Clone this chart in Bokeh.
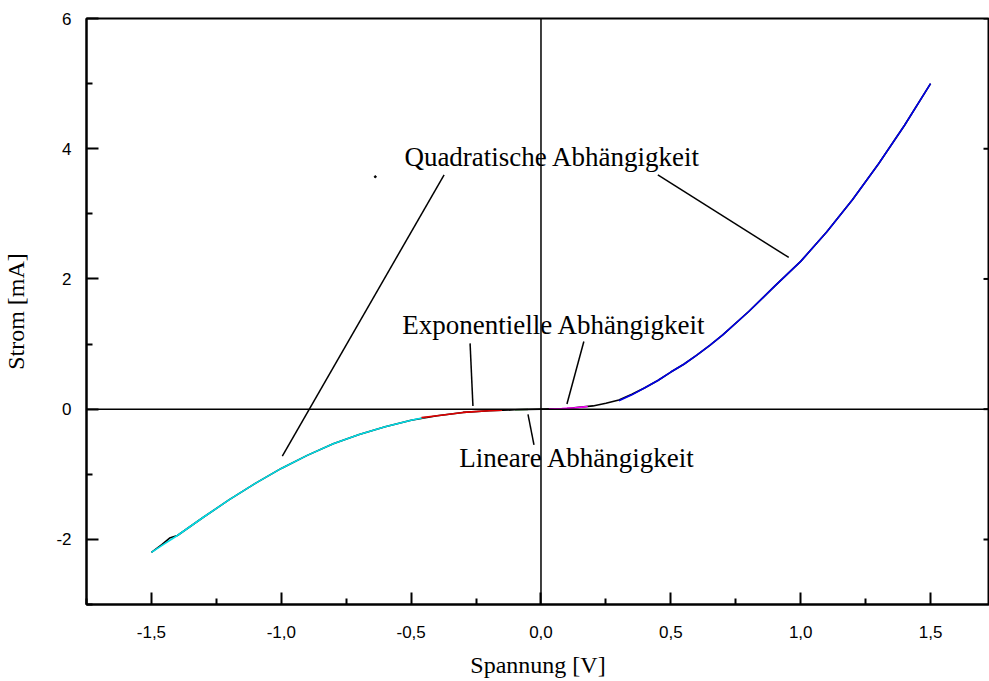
from bokeh.plotting import figure
from bokeh.models import FixedTicker, Span, ColumnDataSource
from bokeh.core.properties import value
from bokeh.embed import file_html
from bokeh.resources import INLINE

# ---- measured characteristic (black) ----
voltage = [-1.5, -1.46, -1.43, -1.4, -1.3, -1.2, -1.1, -1.0, -0.9, -0.8, -0.7, -0.6,
           -0.5, -0.4, -0.3, -0.2, -0.1, 0.0, 0.1, 0.2, 0.25, 0.3, 0.35, 0.4, 0.45, 0.5,
           0.55, 0.6, 0.65, 0.7, 0.8, 0.9, 1.0, 1.1, 1.2, 1.3, 1.4, 1.5]
current = [-2.2, -2.08, -1.98, -1.94, -1.66, -1.39, -1.14, -0.91, -0.71, -0.53, -0.39, -0.27,
           -0.17, -0.10, -0.05, -0.025, -0.01, 0.0, 0.01, 0.05, 0.09, 0.14, 0.23, 0.33, 0.44, 0.57,
           0.69, 0.83, 0.98, 1.14, 1.50, 1.89, 2.27, 2.72, 3.22, 3.77, 4.36, 5.0]

# ---- fits ----
quad_neg_v = [-1.5, -1.45, -1.4, -1.3, -1.2, -1.1, -1.0, -0.9, -0.8, -0.7, -0.6, -0.5, -0.44]
quad_neg_i = [-2.2, -2.07, -1.94, -1.66, -1.39, -1.14, -0.91, -0.71, -0.53, -0.39, -0.27, -0.17, -0.12]
exp_neg_v = [-0.46, -0.4, -0.3, -0.2, -0.15]
exp_neg_i = [-0.13, -0.10, -0.05, -0.025, -0.016]
lin_v = [-0.1, -0.05]
lin_i = [-0.010, -0.005]
exp_pos_v = [0.03, 0.08, 0.13, 0.18]
exp_pos_i = [0.002, 0.008, 0.02, 0.04]
quad_pos_v = [0.3, 0.35, 0.4, 0.45, 0.5, 0.55, 0.6, 0.65, 0.7, 0.8, 0.9, 1.0, 1.1, 1.2, 1.3, 1.4, 1.5]
quad_pos_i = [0.13, 0.22, 0.33, 0.44, 0.57, 0.69, 0.83, 0.98, 1.14, 1.50, 1.89, 2.27, 2.72, 3.22, 3.77, 4.36, 5.0]

# ---- ticks ----
x_tick_values = [-1.5, -1.0, -0.5, 0.0, 0.5, 1.0, 1.5]
x_tick_labels = ["-1,5", "-1,0", "-0,5", "0,0", "0,5", "1,0", "1,5"]
x_minor_values = [-1.75, -1.25, -0.75, -0.25, 0.25, 0.75, 1.25, 1.75]
y_tick_values = [-2, 0, 2, 4, 6]
y_tick_labels = ["-2", "0", "2", "4", "6"]
y_minor_values = [-3, -1, 1, 3, 5]

# ---- annotations ----
ann_text = ["Quadratische Abhängigkeit", "Exponentielle Abhängigkeit", "Lineare Abhängigkeit"]
ann_x = [-0.526, -0.534, -0.315]
ann_y = [3.87, 1.29, -0.75]
lead_x0 = [-0.373, 0.45, -0.273, 0.165, -0.05]
lead_y0 = [3.60, 3.60, 1.01, 1.04, -0.08]
lead_x1 = [-0.996, 0.954, -0.262, 0.10, -0.027]
lead_y1 = [-0.72, 2.33, 0.05, 0.08, -0.55]
dot_x = [-0.638]
dot_y = [3.57]

X_START, X_END = -1.75, 1.727
PX_PER_V = 260.0

p = figure(width=989, height=681, x_range=(X_START, X_END), y_range=(-3, 6),
           output_backend="svg", toolbar_location=None,
           min_border_left=85, min_border_top=18, min_border_bottom=77, min_border_right=0)
p.background_fill_color = "white"
p.border_fill_color = "white"
p.outline_line_color = "black"
p.outline_line_width = 2
p.xgrid.visible = False
p.ygrid.visible = False

tick_font = "Liberation Sans"
title_font = "Liberation Serif"

xa = p.xaxis[0]
xa.ticker = FixedTicker(ticks=x_tick_values, minor_ticks=x_minor_values)
xa.major_label_overrides = dict(zip(x_tick_values, x_tick_labels))
xa.axis_line_width = 2
xa.major_tick_in = 12
xa.major_tick_out = 0
xa.minor_tick_in = 6
xa.minor_tick_out = 0
xa.major_tick_line_width = 2
xa.minor_tick_line_width = 2
xa.major_label_standoff = 21
xa.major_label_text_font = tick_font
xa.major_label_text_font_size = "17px"
xa.major_label_text_color = "black"
xa.axis_label = "Spannung [V]"
xa.axis_label_text_font = title_font
xa.axis_label_text_font_size = "24px"
xa.axis_label_text_font_style = "normal"
xa.axis_label_text_color = "black"
xa.axis_label_standoff = 11

ya = p.yaxis[0]
ya.ticker = FixedTicker(ticks=y_tick_values, minor_ticks=y_minor_values)
ya.major_label_overrides = dict(zip(y_tick_values, y_tick_labels))
ya.axis_line_width = 2
ya.major_tick_in = 12
ya.major_tick_out = 0
ya.minor_tick_in = 6
ya.minor_tick_out = 0
ya.major_tick_line_width = 2
ya.minor_tick_line_width = 2
ya.major_label_standoff = 15
ya.major_label_text_font = tick_font
ya.major_label_text_font_size = "17px"
ya.major_label_text_color = "black"
ya.axis_label = "Strom [mA]"
ya.axis_label_text_font = title_font
ya.axis_label_text_font_size = "24px"
ya.axis_label_text_font_style = "normal"
ya.axis_label_text_color = "black"
ya.axis_label_standoff = 24

# inward ticks on the right frame edge (derived from the tick list)
p.segment(x0=[X_END] * len(y_tick_values), y0=y_tick_values,
          x1=[X_END - 6 / PX_PER_V] * len(y_tick_values), y1=y_tick_values,
          line_color="black", line_width=2)

# zero lines
p.add_layout(Span(location=0, dimension="width", line_color="black", line_width=1.5))
p.add_layout(Span(location=0, dimension="height", line_color="black", line_width=1.5))

# measured curve
p.line(voltage, current, line_color="black", line_width=1.6)

# fits
p.line(quad_neg_v, quad_neg_i, line_color="#00DDE6", line_width=1.6)
p.line(exp_neg_v, exp_neg_i, line_color="#E00000", line_width=1.6)
p.line(lin_v, lin_i, line_color="#1f5f1f", line_width=1.6)
p.line(exp_pos_v, exp_pos_i, line_color="#FF00FF", line_width=1.6)
p.line(quad_pos_v, quad_pos_i, line_color="#0000E6", line_width=1.6)

# leader lines
p.segment(x0=lead_x0, y0=lead_y0, x1=lead_x1, y1=lead_y1, line_color="black", line_width=1.5)
p.scatter(dot_x, dot_y, size=2, color="black")

src = ColumnDataSource(dict(x=ann_x, y=ann_y, t=ann_text))
p.text(x="x", y="y", text="t", source=src, text_font=value(title_font),
       text_font_size="27px", text_baseline="middle", text_align="left", text_color="black")

open("out.html", "w").write(file_html(p, INLINE))
